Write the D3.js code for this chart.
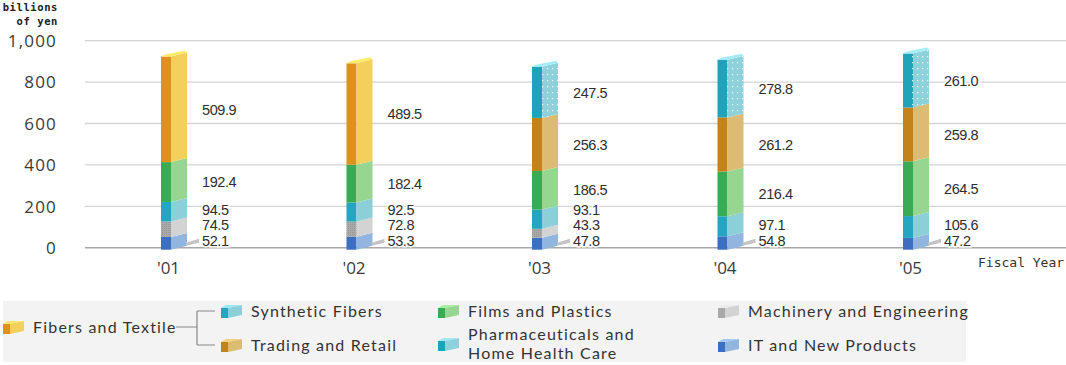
<!DOCTYPE html>
<html><head><meta charset="utf-8">
<script src="https://cdn.jsdelivr.net/npm/d3@7"></script>
<style>
body{margin:0;background:#fff;}
svg{display:block;}
</style></head><body>
<svg id="chart" width="1066" height="365"></svg>
<script>
// Sales by segment, billions of yen
const years = ["'01", "'02", "'03", "'04", "'05"];
const itNewProducts = [52.1, 53.3, 47.8, 54.8, 47.2];
const machineryEngineering = [74.5, 72.8, 43.3, null, null];
const syntheticFibers = [94.5, 92.5, 93.1, 97.1, 105.6];
const filmsPlastics = [192.4, 182.4, 186.5, 216.4, 264.5];
const fibersTextile = [509.9, 489.5, null, null, null];
const tradingRetail = [null, null, 256.3, 261.2, 259.8];
const pharmaHealthCare = [null, null, 247.5, 278.8, 261.0];
const yTicks = [0, 200, 400, 600, 800, 1000];

// stacking order, bottom to top
const segments = [
  {key: "it", name: ["IT and New Products"], values: itNewProducts, dark: "#3c6fc0", light: "#92b5e0"},
  {key: "mach", name: ["Machinery and Engineering"], values: machineryEngineering, dark: "#a9a9a9", light: "#d3d3d3", stipple: "dark"},
  {key: "syn", name: ["Synthetic Fibers"], values: syntheticFibers, dark: "#26a5c2", light: "#8ccfd9"},
  {key: "film", name: ["Films and Plastics"], values: filmsPlastics, dark: "#3aab55", light: "#96d690"},
  {key: "fib", name: ["Fibers and Textile"], values: fibersTextile, dark: "#de921c", light: "#f3cf5c"},
  {key: "trade", name: ["Trading and Retail"], values: tradingRetail, dark: "#c3831a", light: "#dcbb73"},
  {key: "pharma", name: ["Pharmaceuticals and", "Home Health Care"], values: pharmaHealthCare, dark: "#1ea3bb", light: "#8fd1da", stipple: "light"}
];

const svg = d3.select("#chart");
const W = 1066;

const y = d3.scaleLinear().domain([0, 1000]).range([247.7, 40.7]);
const x = d3.scalePoint().domain(years).range([174, 916]);

const defs = svg.append("defs");
const dots = defs.append("pattern").attr("id", "dots").attr("patternUnits", "userSpaceOnUse")
  .attr("width", 5).attr("height", 6);
dots.append("rect").attr("x", 2).attr("y", 2).attr("width", 1.2).attr("height", 1.2).attr("fill", "#fff").attr("opacity", 0.85);
const grain = defs.append("pattern").attr("id", "grain").attr("patternUnits", "userSpaceOnUse")
  .attr("width", 2).attr("height", 2);
grain.append("rect").attr("width", 1).attr("height", 1).attr("fill", "#8a8a8a").attr("opacity", 0.6);

// gridlines
const grid = svg.append("g");
grid.selectAll("line").data(yTicks).join("line")
  .attr("x1", 85).attr("x2", W)
  .attr("y1", d => y(d)).attr("y2", d => y(d))
  .attr("stroke", d => d === 0 ? "#a8a8a8" : "#d4d4d4")
  .attr("stroke-width", d => d === 0 ? 1.6 : 1.3);

// y axis labels
const yAxis = d3.axisLeft(y).tickValues(yTicks).tickFormat(d3.format(",")).tickSize(0).tickPadding(0);
const yg = svg.append("g").attr("transform", "translate(57,0)").call(yAxis);
yg.select(".domain").remove();
yg.selectAll("text").attr("font-family", "'Open Sans', sans-serif").attr("font-size", 17)
  .attr("fill", "#3a3a3a").attr("letter-spacing", 1.2).attr("dy", "0.34em");

svg.append("text").attr("x", 58).attr("y", 11).attr("text-anchor", "end")
  .attr("font-family", "'DejaVu Sans Mono', monospace").attr("font-size", 10.5).attr("font-weight", "bold")
  .attr("letter-spacing", 0.6).attr("fill", "#222").text("billions");
svg.append("text").attr("x", 58).attr("y", 25).attr("text-anchor", "end")
  .attr("font-family", "'DejaVu Sans Mono', monospace").attr("font-size", 10.5).attr("font-weight", "bold")
  .attr("letter-spacing", 0.6).attr("fill", "#222").text("of yen");

// x axis labels
const xAxis = d3.axisBottom(x).tickSize(0).tickPadding(0);
const xg = svg.append("g").attr("transform", `translate(-6,${y(0) + 21})`).call(xAxis);
xg.select(".domain").remove();
xg.selectAll("text").attr("font-family", "'Open Sans', sans-serif").attr("font-size", 17)
  .attr("fill", "#3a3a3a").attr("dy", "0.34em");

svg.append("text").attr("x", 978).attr("y", 267)
  .attr("font-family", "'DejaVu Sans Mono', monospace").attr("font-size", 13)
  .attr("fill", "#333").text("Fiscal Year");

// stacked prism bars
const FRONT = 10, SIDE = 16, SKEW = 4;
const bars = svg.append("g");
const labels = svg.append("g");

years.forEach((yr, i) => {
  const cx = x(yr);
  const x0 = cx - (FRONT + SIDE) / 2;
  const xr = x0 + FRONT + SIDE;
  let acc = 0;
  const parts = [];
  segments.forEach(s => {
    const v = s.values[i];
    if (v == null) return;
    parts.push({s, v, lo: acc, hi: acc + v});
    acc += v;
  });
  parts.forEach((p, k) => {
    const yl = y(p.lo), yh = y(p.hi);
    const g = bars.append("g");
    g.append("rect").attr("x", x0).attr("y", yh).attr("width", FRONT).attr("height", yl - yh + (k === 0 ? 2 : 0))
      .attr("fill", p.s.dark);
    const side = [[x0 + FRONT, yh], [xr, yh - SKEW], [xr, yl - SKEW + (k === 0 ? 2 : 0)], [x0 + FRONT, yl + (k === 0 ? 2 : 0)]];
    g.append("polygon").attr("points", side.join(" ")).attr("fill", p.s.light);
    if (p.s.stipple === "light") {
      g.append("polygon").attr("points", side.join(" ")).attr("fill", "url(#dots)");
      g.append("rect").attr("x", x0 + FRONT - 2).attr("y", yh).attr("width", 2).attr("height", yl - yh).attr("fill", "url(#dots)");
    }
    if (p.s.stipple === "dark") {
      g.append("rect").attr("x", x0).attr("y", yh).attr("width", FRONT).attr("height", yl - yh).attr("fill", "url(#grain)");
    }
    if (k === parts.length - 1) {
      const cap = [[x0, yh], [x0 + 4, yh - 2], [xr - 2, yh - SKEW - 2], [xr, yh - SKEW], [x0 + FRONT, yh]];
      g.append("polygon").attr("points", cap.join(" ")).attr("fill", d3.color(p.s.light).brighter(0.35));
    }
  });

  // value labels, pushed apart from the bottom up
  const lx = xr + 15;
  let prev = null;
  parts.forEach((p, k) => {
    const mid = y((p.lo + p.hi) / 2);
    let ly = k === 0 ? Math.min(mid, y(0) - 7) : Math.min(mid, prev - 15.5);
    prev = ly;
    if (k === 0) {
      const wedge = [[xr - 1, y(0) - SKEW - 1], [lx - 3, ly - 2], [lx - 3, ly + 2], [xr - 1, y(0) - SKEW + 2]];
      labels.append("polygon").attr("points", wedge.join(" ")).attr("fill", "#c4c4c4");
    }
    labels.append("text").attr("x", lx).attr("y", ly).attr("dy", "0.36em")
      .attr("font-family", "'Liberation Sans', Arial, sans-serif").attr("font-size", 14.5)
      .attr("letter-spacing", -0.4).attr("fill", "#2e2e2e")
      .attr("stroke", "#fff").attr("stroke-width", 3).attr("paint-order", "stroke")
      .text(d3.format(".1f")(p.v));
  });
});

// legend
const leg = svg.append("g");
leg.append("rect").attr("x", 3).attr("y", 301).attr("width", 963).attr("height", 61).attr("fill", "#f3f3f3");

const legendPos = {
  fib: [3, 327], syn: [221, 311], trade: [221, 345], film: [438, 311],
  pharma: [438, 344], mach: [718, 311], it: [718, 345]
};
const bySeg = Object.fromEntries(segments.map(s => [s.key, s]));

function icon(g, s, ix, cy) {
  g.append("polygon").attr("points", [[ix + 7, cy - 3], [ix + 21, cy - 6], [ix + 21, cy + 4], [ix + 7, cy + 7]].join(" "))
    .attr("fill", s.light);
  g.append("rect").attr("x", ix).attr("y", cy - 3).attr("width", 7).attr("height", 10).attr("fill", s.dark);
  g.append("polygon").attr("points", [[ix, cy - 3], [ix + 5, cy - 6], [ix + 21, cy - 6], [ix + 7, cy - 3]].join(" "))
    .attr("fill", d3.color(s.light).brighter(0.3));
}

Object.entries(legendPos).forEach(([key, [ix, cy]]) => {
  const s = bySeg[key];
  const g = leg.append("g");
  icon(g, s, ix, cy);
  const n = s.name.length;
  s.name.forEach((line, j) => {
    g.append("text").attr("x", ix + 30).attr("y", cy + (j - (n - 1) / 2) * 19).attr("dy", "0.35em")
      .attr("font-family", "Lato, 'Noto Sans', sans-serif")
      .attr("font-size", 16).attr("letter-spacing", 1.2).attr("fill", "#333").text(line);
  });
});

// bracket linking Fibers and Textile to its successor segments
leg.append("path")
  .attr("d", "M176,327H197M197,311V345M197,311H215M197,345H215")
  .attr("fill", "none").attr("stroke", "#888").attr("stroke-width", 1.2);
</script>
</body></html>
